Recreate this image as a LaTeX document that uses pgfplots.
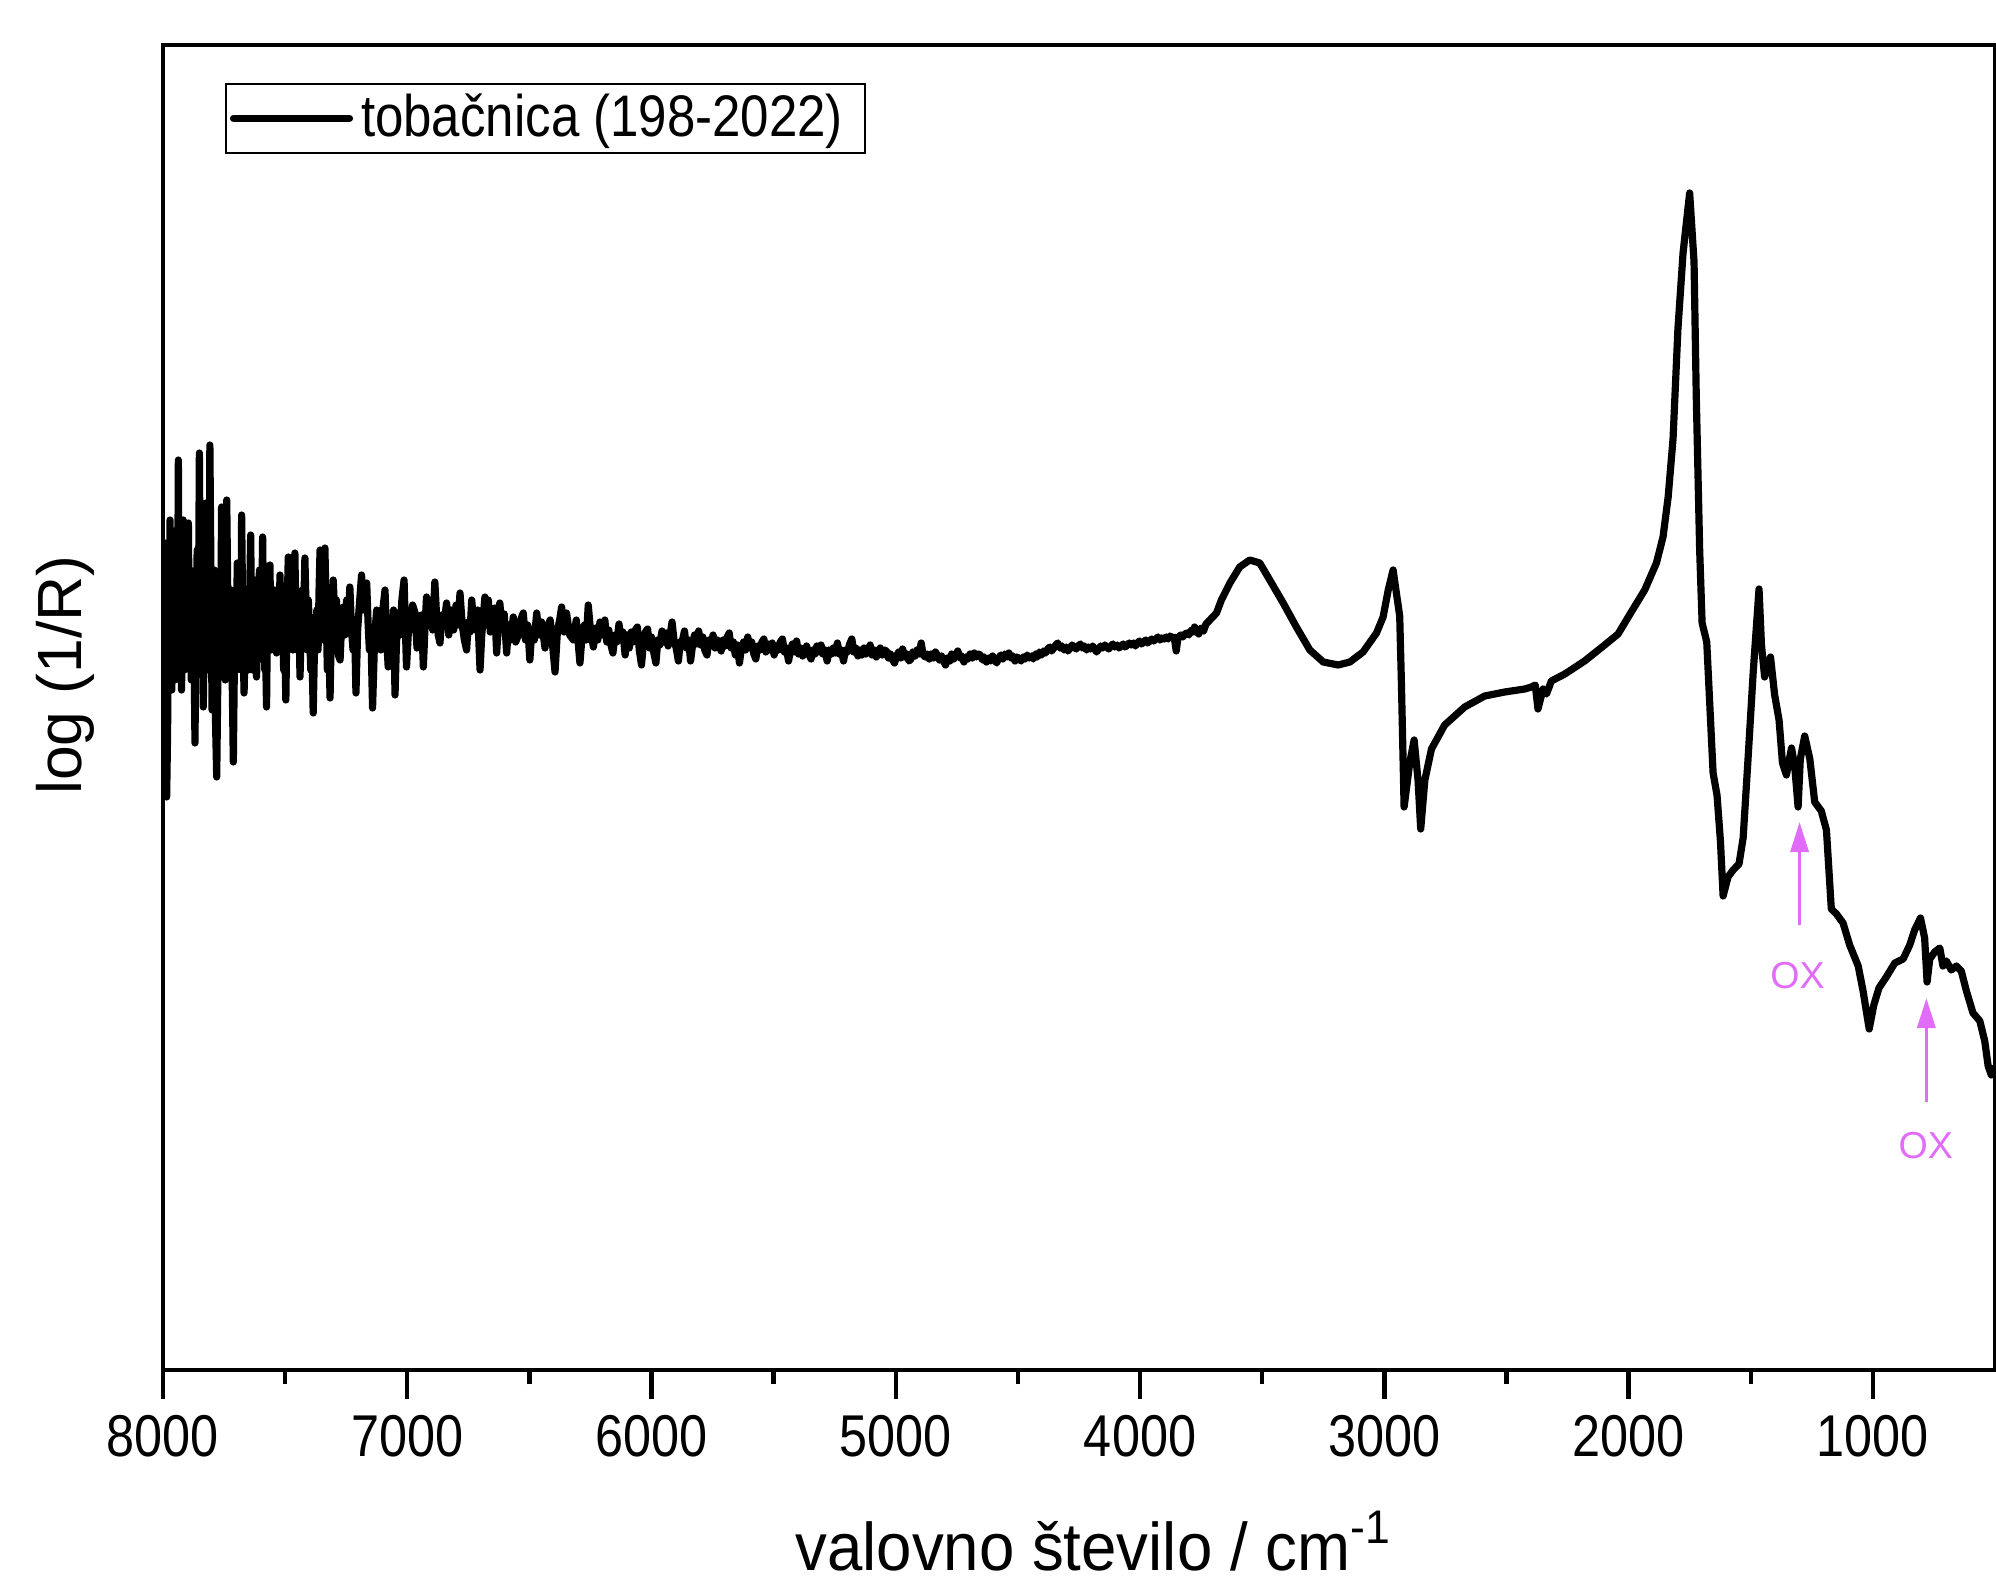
\documentclass[border=0pt]{standalone}
\usepackage{fontspec}
\setmainfont{Liberation Sans}
\usepackage{graphicx}
\usepackage{pgfplots}
\usepackage{pgfplotstable}
\pgfplotsset{compat=1.18}
\usetikzlibrary{arrows.meta}
\definecolor{oxcol}{RGB}{226,108,250}

\pgfplotstableread{
wn y
8000 700
7996 640
7992 827
7988 700
7985 573
7981 640
7978 780
7974 700
7971 850
7967 760
7964 680
7960 760
7955 820
7951 690
7948 700
7944 840
7940 760
7937 910
7933 700
7929 800
7924 680
7920 760
7917 850
7912 700
7908 800
7905 720
7900 790
7896 847
7892 720
7888 800
7884 690
7880 700
7875 780
7869 627
7865 740
7860 820
7856 700
7851 917
7847 760
7843 700
7839 820
7835 663
7830 760
7824 867
7820 700
7816 820
7812 720
7808 925
7803 780
7799 660
7795 700
7790 800
7785 650
7780 593
7775 700
7770 780
7765 700
7760 863
7755 720
7750 800
7745 690
7739 870
7735 780
7730 720
7725 700
7720 780
7716 680
7712 608
7708 700
7704 760
7700 700
7696 807
7690 740
7685 780
7681 700
7678 855
7673 740
7668 677
7664 720
7660 760
7655 780
7650 700
7646 760
7641 835
7637 740
7634 700
7630 720
7625 790
7621 730
7617 693
7612 740
7608 780
7605 800
7600 720
7596 760
7592 833
7588 740
7583 700
7580 720
7576 663
7572 760
7567 740
7562 805
7558 720
7553 760
7548 740
7543 780
7539 730
7535 717
7530 760
7525 740
7521 795
7515 730
7510 760
7506 700
7501 720
7497 670
7493 740
7490 780
7487 813
7482 730
7478 770
7473 760
7468 720
7464 780
7460 817
7455 740
7450 720
7444 760
7439 693
7434 740
7429 780
7424 760
7419 812
7414 760
7409 720
7405 770
7400 740
7395 700
7390 720
7385 657
7380 720
7375 740
7370 760
7365 720
7361 780
7357 820
7352 740
7347 770
7342 730
7337 822
7332 760
7327 700
7322 740
7316 672
7311 740
7307 760
7303 790
7295 745
7290 770
7282 715
7275 710
7268 750
7262 763
7255 735
7248 770
7242 748
7235 783
7228 740
7222 720
7216 750
7210 677
7203 740
7196 765
7187 795
7180 760
7173 778
7166 787
7160 745
7155 720
7149 740
7142 662
7135 720
7130 745
7125 760
7118 735
7112 755
7108 720
7100 760
7091 780
7085 735
7078 703
7070 740
7063 725
7056 760
7050 675
7045 720
7039 757
7030 735
7022 770
7013 790
7008 745
7003 703
6996 735
6990 760
6985 740
6978 765
6968 757
6960 722
6950 730
6942 755
6934 703
6927 745
6921 773
6912 748
6904 770
6896 740
6887 788
6880 755
6873 735
6866 727
6858 755
6850 745
6839 767
6830 735
6820 760
6810 740
6800 765
6792 745
6784 777
6775 745
6766 730
6757 720
6750 748
6743 738
6736 770
6728 745
6720 740
6712 760
6702 700
6695 735
6688 755
6682 773
6675 745
6668 770
6660 738
6650 740
6642 762
6634 717
6628 740
6621 767
6612 742
6603 756
6593 717
6585 745
6576 730
6566 753
6556 728
6545 735
6536 750
6525 757
6516 730
6507 745
6498 710
6490 740
6480 730
6470 757
6460 735
6450 748
6436 722
6427 742
6415 750
6405 725
6395 698
6385 740
6376 750
6368 763
6358 738
6348 757
6335 735
6320 730
6308 750
6293 707
6284 735
6275 745
6267 730
6259 765
6250 740
6238 723
6228 742
6220 730
6211 748
6200 735
6191 750
6183 728
6175 740
6166 725
6158 717
6150 735
6142 728
6133 746
6125 730
6117 738
6108 715
6100 735
6091 722
6083 738
6075 728
6066 740
6058 743
6050 720
6041 705
6033 728
6025 738
6016 741
6008 722
6000 733
5991 718
5982 707
5974 730
5966 725
5957 739
5949 728
5940 737
5932 724
5924 735
5916 748
5908 730
5899 722
5890 709
5882 728
5873 730
5865 739
5857 722
5848 730
5840 709
5832 725
5824 735
5815 726
5807 739
5798 725
5790 733
5782 720
5773 715
5765 730
5756 725
5748 735
5740 722
5731 730
5723 726
5715 719
5707 730
5698 724
5690 733
5682 737
5674 722
5665 728
5657 715
5648 725
5640 707
5632 722
5623 728
5615 720
5606 733
5598 722
5590 728
5581 716
5573 711
5565 724
5556 720
5548 728
5540 731
5532 718
5523 726
5515 720
5506 727
5498 715
5490 724
5481 720
5473 728
5464 731
5456 718
5448 722
5439 709
5431 720
5423 726
5414 718
5406 729
5398 716
5390 722
5381 714
5373 717
5365 724
5356 716
5347 711
5339 720
5331 716
5323 724
5314 718
5306 725
5298 716
5290 720
5281 709
5273 720
5264 716
5256 722
5248 717
5239 727
5231 716
5223 720
5214 709
5206 720
5197 718
5189 726
5180 731
5172 718
5164 722
5155 714
5147 720
5139 715
5130 722
5122 716
5114 720
5105 725
5097 715
5089 720
5080 713
5072 717
5064 722
5055 715
5047 720
5038 719
5030 712
5022 716
5013 710
5005 707
4997 714
4988 718
4980 712
4972 721
4963 713
4955 716
4946 709
4938 711
4930 718
4921 714
4913 720
4904 716
4896 727
4888 715
4880 713
4871 716
4863 711
4855 716
4846 712
4838 718
4830 715
4821 710
4813 714
4805 709
4796 705
4788 712
4779 709
4771 716
4763 711
4754 715
4746 719
4738 712
4729 714
4721 708
4712 713
4704 711
4696 716
4687 712
4679 717
4670 713
4662 716
4654 715
4645 710
4637 713
4629 708
4620 712
4612 709
4604 714
4595 710
4587 707
4579 712
4570 715
4562 711
4554 716
4545 713
4537 717
4529 712
4520 714
4512 709
4503 713
4495 711
4487 709
4478 713
4470 711
4462 715
4453 712
4445 714
4437 711
4428 716
4420 713
4412 718
4403 715
4395 719
4387 717
4378 721
4370 723
4362 719
4353 722
4345 725
4337 727
4328 722
4320 724
4311 720
4303 723
4295 719
4286 722
4278 725
4270 723
4261 721
4253 724
4244 726
4236 722
4228 724
4219 720
4211 723
4203 721
4194 724
4186 721
4178 718
4169 721
4161 724
4153 722
4144 725
4136 723
4128 721
4119 724
4111 726
4103 723
4094 725
4086 722
4078 724
4069 726
4061 723
4052 725
4044 727
4036 725
4027 727
4019 724
4011 727
4002 729
3994 726
3985 728
3977 730
3969 727
3960 729
3952 731
3944 729
3935 731
3927 733
3918 730
3910 732
3902 731
3893 733
3885 731
3877 734
3868 732
3860 733
3852 719
3846 730
3842 733
3833 735
3825 733
3816 736
3808 737
3800 735
3796 738
3788 740
3780 738
3777 743
3768 739
3760 736
3754 741
3748 742
3740 739
3730 746
3714 750
3687 757
3667 770
3632 787
3592 803
3551 810
3510 807
3469 790
3414 767
3360 743
3305 720
3250 708
3189 705
3141 708
3087 718
3032 737
3005 753
2984 780
2964 800
2950 776
2937 754
2930 687
2919 563
2896 607
2878 630
2862 590
2851 541
2834 590
2807 621
2753 645
2671 663
2589 674
2507 678
2425 681
2398 683
2382 685
2371 661
2350 681
2336 676
2316 689
2261 696
2180 709
2098 725
2043 736
1989 758
1934 780
1886 807
1859 833
1838 873
1818 931
1798 1041
1777 1117
1750 1177
1732 1108
1723 975
1709 820
1699 747
1680 728
1654 597
1638 575
1624 529
1613 474
1593 493
1572 500
1548 506
1531 532
1511 611
1490 697
1466 781
1456 725
1443 693
1433 704
1419 713
1402 675
1384 650
1370 607
1354 595
1333 622
1320 604
1306 563
1297 611
1279 634
1258 611
1238 568
1211 559
1190 540
1170 461
1149 456
1122 447
1095 425
1060 404
1040 379
1015 341
996 365
975 382
945 393
910 407
876 411
849 425
829 440
805 452
788 432
778 388
767 411
747 418
726 422
713 404
699 409
679 400
658 404
638 399
617 379
590 357
562 349
542 329
528 304
515 295
501 304
}\spectrum

\begin{document}
\begin{tikzpicture}
\begin{axis}[
  scale only axis,
  width=458pt, height=331.25pt,
  x dir=reverse,
  xmin=500, xmax=8000,
  ymin=0, ymax=1325,
  axis line style={line width=1.1pt},
  xtick={1000,2000,3000,4000,5000,6000,7000,8000},
  minor x tick num=1,
  xtick pos=left,
  ytick=\empty,
  tick align=outside,
  major tick length=7.2pt,
  minor tick length=3.6pt,
  every tick/.style={black, line width=1.1pt},
  scaled x ticks=false,
  xticklabel={\scalebox{1}[1.17]{\pgfmathprintnumber[assume math mode=true,1000 sep={}]{\tick}}},
  xticklabel style={font=\fontsize{12.6}{14}\selectfont, anchor=base, inner sep=0pt, yshift=-14.5pt},
  xlabel={\scalebox{1}[1.06]{valovno število / cm\textsuperscript{-1}}},
  xlabel style={at={([yshift=-50pt]axis description cs:0.508,0)}, anchor=base, font=\fontsize{15.9}{18}\selectfont, inner sep=0pt},
  ylabel={log (1/R)},
  ylabel style={at={([xshift=-20.25pt]axis description cs:0,0.5245)}, anchor=base, font=\fontsize{15.6}{18}\selectfont, inner sep=0pt},
  legend style={at={(axis description cs:0.0338,0.9713)}, anchor=north west, draw=black, line width=0.5pt, font=\fontsize{12.75}{14}\selectfont, inner xsep=1pt, inner ysep=0.5pt},
  legend cell align=left,
  legend image code/.code={\draw[#1, line width=1.8pt, line cap=round] (0pt,0pt) -- (29pt,0pt);},
]
\addplot[black, line width=1.8pt, line join=round] table[x=wn, y=y] {\spectrum};
\addlegendentry{\scalebox{1}[1.15]{tobačnica (198-2022)}\hspace*{2.5pt}}

\draw[oxcol, line width=0.85pt, -{Triangle[length=7.5pt,width=4.5pt]}] (axis cs:1300,445) -- (axis cs:1300,548);
\node[oxcol, font=\fontsize{9.4}{11}\selectfont, inner sep=0pt] at (axis cs:1308,394) {OX};
\draw[oxcol, line width=0.85pt, -{Triangle[length=7.5pt,width=4.5pt]}] (axis cs:781,268) -- (axis cs:781,372);
\node[oxcol, font=\fontsize{9.4}{11}\selectfont, inner sep=0pt] at (axis cs:783,224) {OX};

\coordinate (sw) at (axis description cs:0,0);
\coordinate (ne) at (axis description cs:1,1);
\end{axis}
\pgfresetboundingbox
\path[use as bounding box] ([xshift=-40.75pt,yshift=-53.25pt]sw) rectangle ([xshift=0.25pt,yshift=11.25pt]ne);
\end{tikzpicture}
\end{document}
